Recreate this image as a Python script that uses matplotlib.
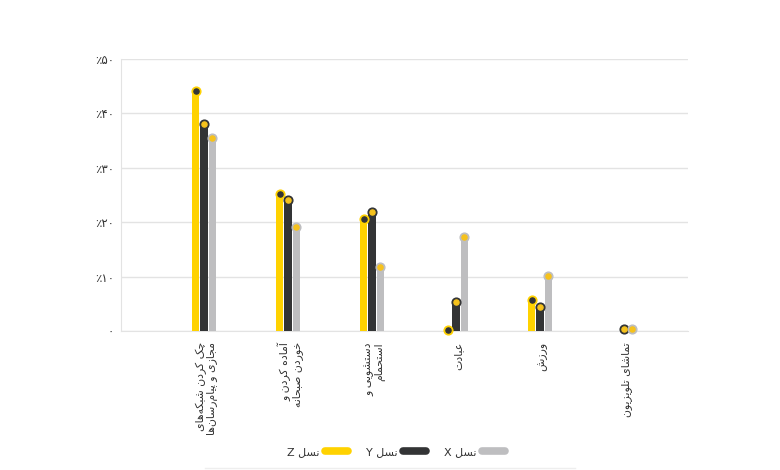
import numpy as np
import matplotlib
matplotlib.use("Agg")
import matplotlib.pyplot as plt
from matplotlib.lines import Line2D

# ---------------- data ----------------
categories = [
    "چک کردن شبکه‌های\nمجازی و پیام‌رسان‌ها",
    "آماده کردن و\nخوردن صبحانه",
    "دستشویی و\nاستحمام",
    "عبادت",
    "ورزش",
    "تماشای تلویزیون",
]
series_names = ["نسل Z", "نسل Y", "نسل X"]
gen_z = [44.1, 25.1, 20.6, 0.2, 5.7, np.nan]
gen_y = [38.0, 24.0, 21.9, 5.3, 4.4, 0.4]
gen_x = [35.5, 19.2, 11.8, 17.3, 10.1, 0.4]
ytick_values = [0, 10, 20, 30, 40, 50]
ytick_labels = ["۰", "٪۱۰", "٪۲۰", "٪۳۰", "٪۴۰", "٪۵۰"]

# ---------------- simple Persian shaping ----------------
FORMS = {
    "ا": (0xFE8D, 0xFE8E, None, None), "آ": (0xFE81, 0xFE82, None, None),
    "ب": (0xFE8F, 0xFE90, 0xFE91, 0xFE92), "پ": (0xFB56, 0xFB57, 0xFB58, 0xFB59),
    "ت": (0xFE95, 0xFE96, 0xFE97, 0xFE98), "ث": (0xFE99, 0xFE9A, 0xFE9B, 0xFE9C),
    "ج": (0xFE9D, 0xFE9E, 0xFE9F, 0xFEA0), "چ": (0xFB7A, 0xFB7B, 0xFB7C, 0xFB7D),
    "ح": (0xFEA1, 0xFEA2, 0xFEA3, 0xFEA4), "خ": (0xFEA5, 0xFEA6, 0xFEA7, 0xFEA8),
    "د": (0xFEA9, 0xFEAA, None, None), "ذ": (0xFEAB, 0xFEAC, None, None),
    "ر": (0xFEAD, 0xFEAE, None, None), "ز": (0xFEAF, 0xFEB0, None, None),
    "ژ": (0xFB8A, 0xFB8B, None, None),
    "س": (0xFEB1, 0xFEB2, 0xFEB3, 0xFEB4), "ش": (0xFEB5, 0xFEB6, 0xFEB7, 0xFEB8),
    "ص": (0xFEB9, 0xFEBA, 0xFEBB, 0xFEBC), "ض": (0xFEBD, 0xFEBE, 0xFEBF, 0xFEC0),
    "ط": (0xFEC1, 0xFEC2, 0xFEC3, 0xFEC4), "ظ": (0xFEC5, 0xFEC6, 0xFEC7, 0xFEC8),
    "ع": (0xFEC9, 0xFECA, 0xFECB, 0xFECC), "غ": (0xFECD, 0xFECE, 0xFECF, 0xFED0),
    "ف": (0xFED1, 0xFED2, 0xFED3, 0xFED4), "ق": (0xFED5, 0xFED6, 0xFED7, 0xFED8),
    "ک": (0xFB8E, 0xFB8F, 0xFB90, 0xFB91), "گ": (0xFB92, 0xFB93, 0xFB94, 0xFB95),
    "ل": (0xFEDD, 0xFEDE, 0xFEDF, 0xFEE0), "م": (0xFEE1, 0xFEE2, 0xFEE3, 0xFEE4),
    "ن": (0xFEE5, 0xFEE6, 0xFEE7, 0xFEE8), "و": (0xFEED, 0xFEEE, None, None),
    "ه": (0xFEE9, 0xFEEA, 0xFEEB, 0xFEEC), "ی": (0xFBFC, 0xFBFD, 0xFBFE, 0xFBFF),
}


def _dual(c):
    return c in FORMS and FORMS[c][2] is not None


def shape_line(s):
    out = []
    for i, c in enumerate(s):
        if c == "\u200c":
            continue
        if c not in FORMS:
            out.append(c)
            continue
        prev = s[i - 1] if i > 0 else None
        nxt = s[i + 1] if i + 1 < len(s) else None
        jp = prev is not None and _dual(prev)
        jn = _dual(c) and nxt is not None and nxt in FORMS
        f = FORMS[c]
        if jp and jn:
            code = f[3]
        elif jp:
            code = f[1]
        elif jn:
            code = f[2]
        else:
            code = f[0]
        out.append(chr(code))
    return "".join(reversed(out))


def vis(s):
    return "\n".join(shape_line(line) for line in s.split("\n"))


# ---------------- figure ----------------
FONT = ["DejaVu Sans"]
plt.rcParams["font.family"] = FONT
fig = plt.figure(figsize=(7.8, 4.7), dpi=100)
ax = fig.add_axes([121 / 780, 1 - 331 / 470, (688 - 121) / 780, (331 - 59) / 470])

c_z, c_y, c_x = "#FFD200", "#333435", "#BEBEC0"
dot_y = "#F6C21C"
x = np.arange(len(categories))
w = 0.092
offs = [-0.1, 0.0, 0.1]
series = [gen_z, gen_y, gen_x]
bar_cols = [c_z, c_y, c_x]
dot_cols = [c_y, dot_y, dot_y]

for vals, off, bc, dc in zip(series, offs, bar_cols, dot_cols):
    vals = np.asarray(vals, dtype=float)
    m = ~np.isnan(vals)
    xs = x[m] + off
    ax.bar(xs, vals[m], width=w, color=bc, zorder=3, linewidth=0)
    ax.plot(xs, vals[m], "o", ms=6.3, color=bc, mec=bc, zorder=4, clip_on=False)
    ax.plot(xs, vals[m], "o", ms=3.7, color=dc, mec=dc, zorder=5, clip_on=False)

ax.set_ylim(0, 50)
ax.set_xlim(-0.988, 5.762)
ax.set_yticks(ytick_values)
ax.set_yticklabels(ytick_labels, fontsize=8.5, color="#333333")
ax.yaxis.grid(True, color="#E3E3E3", linewidth=1, zorder=0)
ax.set_axisbelow(True)
for s in ["top", "right"]:
    ax.spines[s].set_visible(False)
ax.spines["left"].set_color("#E3E3E3")
ax.spines["bottom"].set_color("#E3E3E3")
ax.tick_params(axis="y", length=0, pad=5)
ax.tick_params(axis="x", length=0, pad=8)
ax.set_xticks(x + 0.03)
ax.set_xticklabels([vis(c) for c in categories], rotation=90, fontsize=7.8,
                   color="#333333", ha="center", va="top", multialignment="right",
                   linespacing=1.0)

handles = [Line2D([0], [0], color=c, lw=5.5, solid_capstyle="round") for c in bar_cols]
fig.legend(handles, [vis(n) for n in series_names], loc="center",
           bbox_to_anchor=(396 / 780, 1 - 452 / 470), ncol=3, frameon=False,
           markerfirst=False, fontsize=8, handlelength=2.1, columnspacing=1.6,
           handletextpad=0.5, labelcolor="#333333")

fig.add_artist(Line2D([205 / 780, 575 / 780], [1 - 468 / 470] * 2, color="#EEEEEE", lw=1))

fig.savefig("out.png", dpi=100, facecolor="white")
